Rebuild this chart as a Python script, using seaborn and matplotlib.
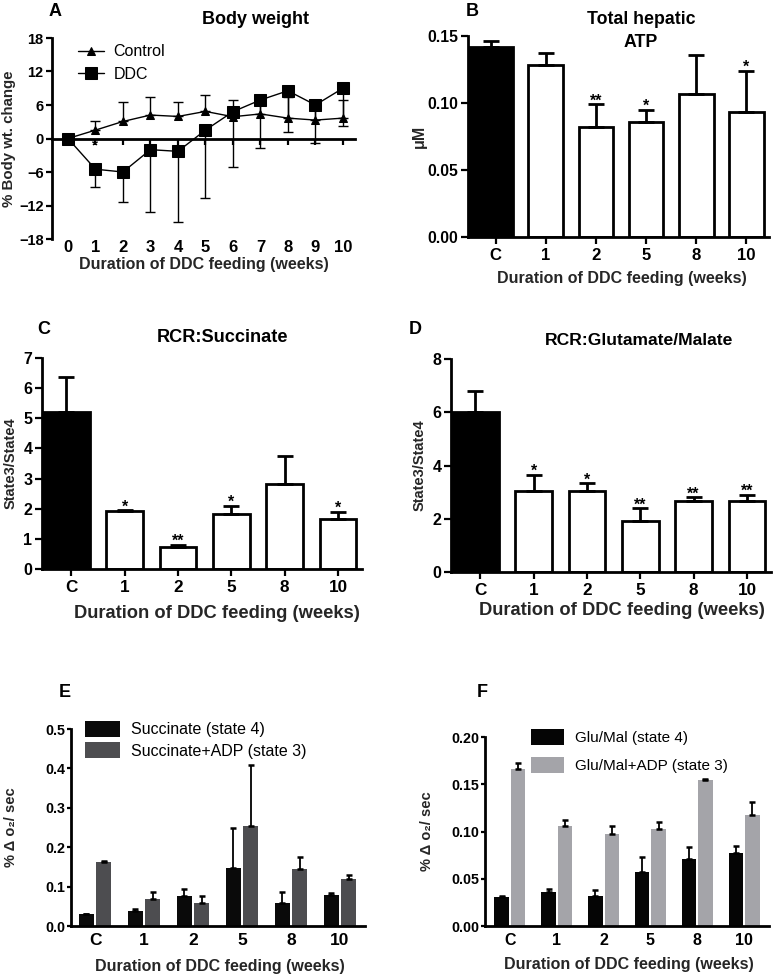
import numpy as np
import pandas as pd
import matplotlib
matplotlib.use("Agg")
import matplotlib.pyplot as plt
import seaborn as sns

# ---------------- data ----------------
weeks = list(range(11))
control_mean = [0, 1.5, 3.05, 4.2, 3.95, 4.85, 3.9, 4.4, 3.65, 3.3, 3.65]
control_err = [0, 1.7, 3.4, 3.2, 2.5, 2.9, 3.0, 2.4, 3.8, 2.5, 3.3]
ddc_mean = [0, -5.5, -6.0, -2.0, -2.3, 1.5, 4.8, 6.9, 8.55, 6.0, 9.0]
ddc_err = [0, 3.1, 5.4, 11.1, 12.6, 12.1, 9.9, 8.6, 7.3, 6.8, 6.7]

groups = ["C", "1", "2", "5", "8", "10"]

atp_mean = [0.1415, 0.128, 0.0824, 0.0857, 0.107, 0.0936]
atp_err = [0.005, 0.009, 0.0166, 0.0092, 0.0286, 0.0304]
atp_sig = ["", "", "**", "*", "", "*"]

succ_rcr = [5.21, 1.91, 0.73, 1.83, 2.81, 1.66]
succ_rcr_err = [1.16, 0.04, 0.07, 0.27, 0.94, 0.23]
succ_rcr_sig = ["", "*", "**", "*", "", "*"]

gm_rcr = [6.0, 3.04, 3.04, 1.91, 2.68, 2.68]
gm_rcr_err = [0.78, 0.6, 0.29, 0.48, 0.12, 0.23]
gm_rcr_sig = ["", "*", "*", "**", "**", "**"]

succ_s4 = [0.030, 0.037, 0.077, 0.148, 0.058, 0.079]
succ_s4_err = [0.001, 0.007, 0.018, 0.102, 0.029, 0.005]
succ_s3 = [0.162, 0.069, 0.059, 0.255, 0.144, 0.119]
succ_s3_err = [0.002, 0.018, 0.018, 0.154, 0.032, 0.010]

gm_s4 = [0.0308, 0.036, 0.032, 0.057, 0.071, 0.077]
gm_s4_err = [0.0012, 0.003, 0.0066, 0.016, 0.013, 0.008]
gm_s3 = [0.166, 0.106, 0.097, 0.103, 0.155, 0.1175]
gm_s3_err = [0.007, 0.006, 0.009, 0.007, 0.0005, 0.0135]

xlab = "Duration of DDC feeding (weeks)"

# ---------------- style ----------------
sns.set_theme(style="ticks")
plt.rcParams["font.family"] = ["Liberation Sans", "DejaVu Sans"]
plt.rcParams["font.weight"] = "bold"
plt.rcParams["axes.labelweight"] = "bold"
plt.rcParams["axes.linewidth"] = 1.6
plt.rcParams["xtick.major.width"] = 1.6
plt.rcParams["ytick.major.width"] = 1.6
plt.rcParams["xtick.major.size"] = 4
plt.rcParams["ytick.major.size"] = 4
plt.rcParams["xtick.color"] = "black"
plt.rcParams["ytick.color"] = "black"
plt.rcParams["axes.edgecolor"] = "black"
plt.rcParams["text.color"] = "black"

W, H = 778, 980
fig = plt.figure(figsize=(W / 100, H / 100), dpi=100)


def add_ax(x0, y0, x1, y1):
    return fig.add_axes([x0 / W, 1 - y1 / H, (x1 - x0) / W, (y1 - y0) / H])


def letter(x, y, s):
    fig.text(x / W, 1 - y / H, s, fontsize=13, fontweight="bold", ha="center", va="center")


# ---------------- Panel A ----------------
axA = add_ax(52, 38, 355, 239)
sns.lineplot(x=weeks, y=control_mean, marker="^", markersize=6, color="black", lw=1,
             ax=axA, label="Control", markeredgecolor="black")
sns.lineplot(x=weeks, y=ddc_mean, marker="s", markersize=8, color="black", lw=1,
             ax=axA, label="DDC", markeredgecolor="black")
axA.errorbar(weeks, control_mean, yerr=[np.zeros(11), control_err], fmt="none",
             ecolor="black", elinewidth=1, capsize=3.5, capthick=1, zorder=1)
axA.errorbar(weeks, ddc_mean, yerr=[ddc_err, np.zeros(11)], fmt="none",
             ecolor="black", elinewidth=1, capsize=3.5, capthick=1, zorder=1)
axA.set_ylim(-18, 18)
axA.set_xlim(-0.58, 10.44)
axA.set_yticks([-18, -12, -6, 0, 6, 12, 18])
axA.spines["top"].set_visible(False)
axA.spines["right"].set_visible(False)
axA.spines["bottom"].set_position(("data", 0))
axA.spines["bottom"].set_linewidth(2)
axA.spines["left"].set_linewidth(2)
axA.set_xticks(weeks)
axA.tick_params(axis="x", labelbottom=False, length=4, direction="out")
axA.tick_params(axis="y", labelsize=10.5, pad=2)
secA = axA.secondary_xaxis("bottom")
secA.set_xticks(weeks)
secA.spines["bottom"].set_visible(False)
secA.tick_params(length=0, pad=1, labelsize=12)
secA.set_xlabel(xlab, fontsize=11.5, fontweight="bold", labelpad=1)
axA.set_ylabel("% Body wt. change", fontsize=10.8)
axA.yaxis.set_label_coords(-0.118, 0.5)
axA.text(1, -1.3, "*", ha="center", va="center", fontsize=11, fontweight="bold")
axA.text(0.67, 1.09, "Body weight", transform=axA.transAxes, ha="center", va="center",
         fontsize=13, fontweight="bold")
axA.legend(loc="upper left", bbox_to_anchor=(0.04, 1.04), frameon=False,
           prop={"weight": "normal", "size": 11.5}, handlelength=1.6, handletextpad=0.6,
           labelspacing=0.45)
letter(55, 12, "A")


# ---------------- single-series bar panels ----------------
def bar_panel(ax, vals, errs, sigs, ylim, yticks, yfmt, ylabel, title, tx, ty,
              ylab_x, xlab_x, xlab_y, xlabsize, ticksize, ylabsize, titlesize):
    df = pd.DataFrame({"g": groups, "v": vals})
    pal = {g: ("black" if i == 0 else "white") for i, g in enumerate(groups)}
    sns.barplot(data=df, x="g", y="v", hue="g", palette=pal, order=groups, hue_order=groups,
                edgecolor="black", linewidth=2, width=0.69, legend=False, ax=ax,
                errorbar=None, saturation=1)
    ax.set_ylim(*ylim)
    ax.set_xlim(-0.55, 5.45)
    # widen the control bar so it starts at the axis, as in the original
    p0 = ax.containers[0][0]
    right = p0.get_x() + p0.get_width()
    left = ax.get_xlim()[0] + 0.02
    p0.set_x(left)
    p0.set_width(right - left)
    xs, tops = [], []
    for cont in ax.containers:
        for p in cont:
            xs.append(p.get_x() + p.get_width() / 2)
            tops.append(p.get_height())
    ax.errorbar(xs, tops, yerr=[np.zeros(len(errs)), errs], fmt="none", ecolor="black",
                elinewidth=2, capsize=6, capthick=2, zorder=1)
    for x, t, e, s in zip(xs, tops, errs, sigs):
        if s:
            ax.annotate(s, (x, t + e), xytext=(0, -3), textcoords="offset points",
                        ha="center", va="bottom", fontsize=11.5, fontweight="bold")
    ax.set_yticks(yticks)
    ax.set_yticklabels([yfmt.format(v) for v in yticks])
    sns.despine(ax=ax)
    ax.spines["left"].set_linewidth(2)
    ax.spines["bottom"].set_linewidth(2)
    ax.tick_params(axis="both", labelsize=ticksize, length=5, width=1.6)
    ax.tick_params(axis="x", pad=3, labelsize=ticksize + 0.8)
    ax.tick_params(axis="y", pad=2)
    ax.set_xlabel(xlab, fontsize=xlabsize)
    ax.xaxis.set_label_coords(xlab_x, xlab_y)
    ax.set_ylabel(ylabel, fontsize=ylabsize)
    ax.yaxis.set_label_coords(ylab_x, 0.5)
    ax.text(tx, ty, title, transform=ax.transAxes, ha="center", va="center",
            fontsize=titlesize, fontweight="bold", linespacing=1.5)


axB = add_ax(468, 36, 769, 237)
bar_panel(axB, atp_mean, atp_err, atp_sig, (0, 0.15), [0, 0.05, 0.10, 0.15], "{:.2f}",
          "μM", "Total hepatic\nATP", 0.575, 1.025, -0.136, 0.51, -0.17, 11.5, 11.3, 11.5, 12.8)
letter(472, 11, "B")

axC = add_ax(42, 358, 362, 569)
bar_panel(axC, succ_rcr, succ_rcr_err, succ_rcr_sig, (0, 7), list(range(8)), "{:d}",
          "State3/State4", "RCR:Succinate", 0.5625, 1.095, -0.075, 0.546, -0.17, 13.2,
          11.5, 10.5, 13.1)
letter(44, 329, "C")

axD = add_ax(451, 359, 771, 572)
bar_panel(axD, gm_rcr, gm_rcr_err, gm_rcr_sig, (0, 8), [0, 2, 4, 6, 8], "{:d}",
          "State3/State4", "RCR:Glutamate/Malate", 0.5875, 1.089, -0.075, 0.534, -0.14, 13.2,
          11.5, 10.5, 12.6)
letter(415, 329, "D")


# ---------------- grouped bar panels ----------------
def grouped_panel(ax, s4, s4e, s3, s3e, names, colors, ylim, yticks, yfmt,
                  legend_anchor, labelspacing, xlim, xticksize, legsize):
    df = pd.DataFrame({
        "g": groups * 2,
        "v": list(s4) + list(s3),
        "s": [names[0]] * 6 + [names[1]] * 6,
    })
    sns.barplot(data=df, x="g", y="v", hue="s", order=groups, hue_order=names,
                palette=colors, width=0.7, gap=0.12, errorbar=None, ax=ax,
                saturation=1, linewidth=0)
    for cont, errs in zip(ax.containers, [s4e, s3e]):
        xs = [p.get_x() + p.get_width() / 2 for p in cont]
        tops = [p.get_height() for p in cont]
        ax.errorbar(xs, tops, yerr=[np.zeros(len(errs)), errs], fmt="none",
                    ecolor="black", elinewidth=1.3, capsize=2.5, capthick=1.8, zorder=1)
    ax.set_ylim(*ylim)
    ax.set_xlim(*xlim)
    ax.set_yticks(yticks)
    ax.set_yticklabels([yfmt.format(v) for v in yticks])
    sns.despine(ax=ax)
    ax.spines["left"].set_linewidth(2)
    ax.spines["bottom"].set_linewidth(2)
    ax.tick_params(axis="y", labelsize=10.3, length=3, width=1.6, pad=1)
    ax.tick_params(axis="x", labelsize=xticksize, length=0, pad=5)
    ax.set_xlabel(xlab, fontsize=11.5)
    ax.xaxis.set_label_coords(0.505, -0.165)
    ax.set_ylabel("% Δ o₂/ sec", fontsize=10.5)
    ax.yaxis.set_label_coords(-0.18, 0.5)
    h, l = ax.get_legend_handles_labels()
    ax.legend(h, l, loc="upper left", bbox_to_anchor=legend_anchor, frameon=False,
              prop={"weight": "normal", "size": legsize}, handlelength=2.2, handleheight=1.2,
              handletextpad=0.7, labelspacing=labelspacing, borderaxespad=0)


axE = add_ax(71, 729, 365, 926)
grouped_panel(axE, succ_s4, succ_s4_err, succ_s3, succ_s3_err,
              ["Succinate (state 4)", "Succinate+ADP (state 3)"], ["#0a0a0a", "#4d4d50"],
              (0, 0.5), [0, 0.1, 0.2, 0.3, 0.4, 0.5], "{:.1f}", (0.025, 1.075), 0.3,
              (-0.49, 5.51), 12.5, 11.5)
letter(65, 692, "E")

axF = add_ax(485, 737, 769, 926)
grouped_panel(axF, gm_s4, gm_s4_err, gm_s3, gm_s3_err,
              ["Glu/Mal (state 4)", "Glu/Mal+ADP (state 3)"], ["#050505", "#a4a4a9"],
              (0, 0.20), [0, 0.05, 0.10, 0.15, 0.20], "{:.2f}", (0.14, 1.075), 0.8,
              (-0.53, 5.53), 11.5, 11)
letter(482, 692, "F")

fig.savefig("out.png", dpi=100)
